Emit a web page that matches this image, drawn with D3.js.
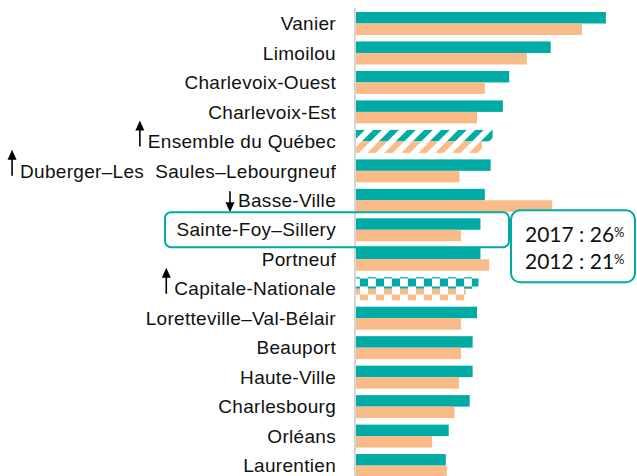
<!DOCTYPE html>
<html>
<head>
<meta charset="utf-8">
<script src="https://cdn.jsdelivr.net/npm/d3@7"></script>
<style>
  body { margin: 0; background: #fff; }
  svg { display: block; }
  .label { font-family: "Liberation Sans", Arial, sans-serif; font-size: 19px; fill: #111; letter-spacing: 0.3px; }
  .callout { font-family: Lato, "Open Sans", sans-serif; fill: #111; }
</style>
</head>
<body>
<div id="chart"></div>
<script>
const categories = [
    "Vanier", "Limoilou", "Charlevoix-Ouest", "Charlevoix-Est", "Ensemble du Québec",
    "Duberger–Les  Saules–Lebourgneuf", "Basse-Ville", "Sainte-Foy–Sillery", "Portneuf",
    "Capitale-Nationale", "Loretteville–Val-Bélair", "Beauport", "Haute-Ville",
    "Charlesbourg", "Orléans", "Laurentien"
];
const values2017 = [51.2, 39.9, 31.4, 30.1, 28.0, 27.6, 26.4, 25.5, 25.5, 25.1, 24.8, 23.9, 23.9, 23.3, 19.0, 18.4];
const values2012 = [46.3, 35.0, 26.4, 24.8, 25.8, 21.2, 40.2, 21.5, 27.3, 22.5, 21.5, 21.5, 21.1, 20.2, 15.6, 18.6];
const years = ["2017", "2012"];
const hatched = ["Ensemble du Québec"];
const checkered = ["Capitale-Nationale"];
const arrows = [
    {name: "Ensemble du Québec", dir: "up"},
    {name: "Duberger–Les  Saules–Lebourgneuf", dir: "up"},
    {name: "Basse-Ville", dir: "down"},
    {name: "Capitale-Nationale", dir: "up"}
];
const highlight = "Sainte-Foy–Sillery";
const calloutLines = [{year: "2017", value: "26"}, {year: "2012", value: "21"}];

const colors = {"2017": "#00aba6", "2012": "#f9bb87"};
const W = 637, H = 476;

const svg = d3.select("#chart").append("svg")
    .attr("width", W).attr("height", H);

const y = d3.scaleBand()
    .domain(categories)
    .range([8.76, 480.3])
    .paddingInner(0.22)
    .paddingOuter(0.11);

const ySub = d3.scaleBand().domain(years).range([0, y.bandwidth()]);

const x = d3.scaleLinear().domain([0, 60]).range([356, 356 + 60 * 4.88]);

const rows = categories.map((c, i) => ({name: c, "2017": values2017[i], "2012": values2012[i]}));

// patterns
const defs = svg.append("defs");
years.forEach(yr => {
    const p = defs.append("pattern")
        .attr("id", "stripe" + yr)
        .attr("patternUnits", "userSpaceOnUse")
        .attr("width", 12).attr("height", 12)
        .attr("patternTransform", "rotate(45)");
    p.append("rect").attr("width", 6).attr("height", 12).attr("fill", colors[yr]);

    const c = defs.append("pattern")
        .attr("id", "check" + yr)
        .attr("patternUnits", "userSpaceOnUse")
        .attr("x", 0).attr("y", y(checkered[0]) + 4)
        .attr("width", 16).attr("height", 16);
    c.append("rect").attr("x", 0).attr("y", 0).attr("width", 8).attr("height", 8).attr("fill", colors[yr]);
    c.append("rect").attr("x", 8).attr("y", 8).attr("width", 8).attr("height", 8).attr("fill", colors[yr]);
});

function fillFor(name, yr) {
    if (hatched.includes(name)) return `url(#stripe${yr})`;
    if (checkered.includes(name)) return `url(#check${yr})`;
    return colors[yr];
}

// axis line
svg.append("line")
    .attr("x1", x(0) - 1).attr("x2", x(0) - 1)
    .attr("y1", 8).attr("y2", H)
    .attr("stroke", "#d6d6d6").attr("stroke-width", 2);

const groups = svg.selectAll(".row")
    .data(rows)
    .enter().append("g")
    .attr("class", "row")
    .attr("transform", d => `translate(0,${y(d.name)})`);

groups.selectAll("rect")
    .data(d => years.map(yr => ({name: d.name, yr, v: d[yr]})))
    .enter().append("rect")
    .attr("x", x(0))
    .attr("y", d => ySub(d.yr))
    .attr("width", d => x(d.v) - x(0))
    .attr("height", ySub.bandwidth())
    .attr("fill", d => fillFor(d.name, d.yr));

const labels = svg.selectAll(".label")
    .data(categories)
    .enter().append("text")
    .attr("class", "label")
    .attr("x", 336)
    .attr("y", d => y(d) + y.bandwidth() / 2)
    .attr("dy", "0.35em")
    .attr("text-anchor", "end")
    .style("white-space", "pre")
    .text(d => d);

// trend arrows
arrows.forEach(a => {
    const node = labels.filter(d => d === a.name).node();
    const len = node.getComputedTextLength();
    const ax = 336 - len - 8;
    const cy = y(a.name) + y.bandwidth() / 2;
    const tip = a.dir === "up" ? cy - 21 : cy + 12;
    const tail = a.dir === "up" ? cy + 5 : cy - 9;
    const s = a.dir === "up" ? 1 : -1;
    svg.append("line")
        .attr("x1", ax).attr("x2", ax)
        .attr("y1", tail).attr("y2", tip + s * 6)
        .attr("stroke", "#000").attr("stroke-width", 1.6);
    svg.append("path")
        .attr("d", `M${ax},${tip} L${ax - 4.5},${tip + s * 10} L${ax + 4.5},${tip + s * 10} Z`)
        .attr("fill", "#000");
});

// highlight box
const hy = y(highlight);
svg.append("rect")
    .attr("x", 165).attr("y", hy - 6)
    .attr("width", 344).attr("height", 35)
    .attr("rx", 6)
    .attr("fill", "none")
    .attr("stroke", colors["2017"]).attr("stroke-width", 2);

// callout
svg.append("rect")
    .attr("x", 511).attr("y", hy - 8)
    .attr("width", 124).attr("height", 72)
    .attr("rx", 9)
    .attr("fill", "#fff")
    .attr("stroke", colors["2017"]).attr("stroke-width", 2);

calloutLines.forEach((l, i) => {
    const t = svg.append("text")
        .attr("class", "callout")
        .attr("x", 525)
        .attr("y", hy + 23.5 + i * 27.5)
        .style("font-size", "21px")
        .text(`${l.year} : ${l.value}`);
    t.append("tspan")
        .attr("dy", "-0.4em")
        .style("font-size", "13px")
        .text("%");
});
</script>
</body>
</html>
